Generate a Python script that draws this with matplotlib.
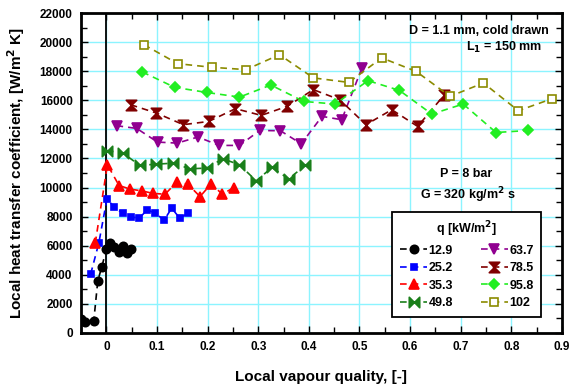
import numpy as np
import matplotlib
matplotlib.use('Agg')
import matplotlib.pyplot as plt
from matplotlib.path import Path

plt.rcParams['font.family'] = ['Liberation Sans', 'DejaVu Sans']
plt.rcParams['font.weight'] = 'bold'

# Mesures : titre de vapeur local x et coefficient d'échange h [W/m2 K]
x_129 = [-0.05, -0.043, -0.025, -0.017, -0.009, 0.0, 0.008, 0.015, 0.024, 0.032, 0.040, 0.049]
h_129 = [950, 750, 800, 3570, 4550, 5750, 6170, 5890, 5550, 6000, 5480, 5750]

x_252 = [-0.031, -0.015, 0.001, 0.016, 0.032, 0.048, 0.065, 0.081, 0.097, 0.114, 0.129, 0.145, 0.161]
h_252 = [4050, 6170, 9200, 8650, 8230, 7960, 7910, 8460, 8230, 7750, 8580, 7890, 8230]

x_353 = [-0.022, 0.002, 0.025, 0.047, 0.070, 0.093, 0.116, 0.139, 0.161, 0.185, 0.207, 0.229, 0.252]
h_353 = [6170, 11570, 10140, 9890, 9770, 9590, 9545, 10370, 10230, 9380, 10250, 9545, 10000]

x_498 = [0.001, 0.033, 0.066, 0.099, 0.132, 0.165, 0.198, 0.230, 0.263, 0.296, 0.327, 0.360, 0.393]
h_498 = [12550, 12370, 11520, 11610, 11680, 11290, 11340, 11980, 11570, 10460, 11380, 10600, 11520]

x_637 = [0.020, 0.060, 0.101, 0.140, 0.181, 0.223, 0.263, 0.303, 0.344, 0.385, 0.426, 0.465, 0.505]
h_637 = [14260, 14070, 13130, 13060, 13480, 12900, 12900, 13930, 13910, 13010, 14900, 14670, 18240]

x_785 = [0.048, 0.099, 0.152, 0.202, 0.255, 0.306, 0.357, 0.409, 0.461, 0.513, 0.564, 0.615, 0.667]
h_785 = [15700, 15130, 14330, 14550, 15430, 14970, 15590, 16740, 16050, 14330, 15360, 14210, 16350]

x_958 = [0.071, 0.135, 0.198, 0.263, 0.325, 0.390, 0.452, 0.517, 0.579, 0.643, 0.705, 0.770, 0.834]
h_958 = [17960, 16900, 16550, 16230, 17060, 15930, 15750, 17360, 16690, 15060, 15750, 13790, 13930]

x_102 = [0.074, 0.141, 0.209, 0.276, 0.342, 0.409, 0.479, 0.544, 0.612, 0.679, 0.745, 0.814, 0.881]
h_102 = [19840, 18530, 18280, 18120, 19150, 17550, 17240, 18930, 18000, 16280, 17200, 15290, 16120]

# marqueurs "noeud papillon" (horizontal et vertical)
bowtie = Path([(-1, -1), (-1, 1), (0, 0), (1, 1), (1, -1), (0, 0), (-1, -1)],
              [Path.MOVETO] + [Path.LINETO] * 5 + [Path.CLOSEPOLY])
hourglass = Path([(-1, -1), (1, -1), (0, 0), (1, 1), (-1, 1), (0, 0), (-1, -1)],
                 [Path.MOVETO] + [Path.LINETO] * 5 + [Path.CLOSEPOLY])

series = [
    (x_129, h_129, '12.9', 'black', 'o', 'black', 6),
    (x_252, h_252, '25.2', '#0000ff', 's', '#0000ff', 5),
    (x_353, h_353, '35.3', '#ff0000', '^', '#ff0000', 7),
    (x_498, h_498, '49.8', '#1a7f1a', bowtie, '#1a7f1a', 7.5),
    (x_637, h_637, '63.7', '#900090', 'v', '#900090', 6.5),
    (x_785, h_785, '78.5', '#800000', hourglass, '#800000', 7.5),
    (x_958, h_958, '95.8', '#22ee22', 'D', '#22ee22', 5),
    (x_102, h_102, '102', '#8b8b00', 's', 'white', 5.5),
]

fig = plt.figure(figsize=(5.71, 3.91), dpi=100)
ax = fig.add_axes([0.142, 0.149, 0.842, 0.817])

handles = []
for x, h, lab, col, mk, fc, ms in series:
    ln, = ax.plot(x, h, linestyle='--', color=col, linewidth=1.2, marker=mk,
                  markersize=ms, markerfacecolor=fc, markeredgecolor=col,
                  markeredgewidth=1.2, label=lab, dashes=(4, 3))
    handles.append(ln)

ax.axvline(0, color='black', linewidth=1.3, zorder=1)

ax.set_xlim(-0.05, 0.9)
ax.set_ylim(0, 22000)
ax.set_xticks(np.arange(0, 0.91, 0.1))
ax.set_xticklabels(['0', '0.1', '0.2', '0.3', '0.4', '0.5', '0.6', '0.7', '0.8', '0.9'])
ax.set_xticks(np.arange(-0.05, 0.9, 0.05), minor=True)
ax.set_yticks(np.arange(0, 22001, 2000))
ax.set_yticks(np.arange(0, 22001, 1000), minor=True)
ax.grid(True, which='major', color='#8cf4ff', linewidth=1.0, zorder=0)
ax.set_axisbelow(True)
ax.tick_params(which='both', direction='in', top=True, right=True, labelsize=8.5)
ax.tick_params(which='major', length=5, width=1, pad=6)
ax.tick_params(which='minor', length=4, width=1)
for lbl in ax.get_xticklabels() + ax.get_yticklabels():
    lbl.set_fontweight('bold')
for sp in ax.spines.values():
    sp.set_linewidth(2)

ax.set_xlabel('Local vapour quality, [-]', fontsize=11, fontweight='bold', labelpad=12)
ax.set_ylabel('Local heat transfer coefficient, [W/m$^{\\mathbf{2}}$ K]', fontsize=11,
              fontweight='bold', labelpad=9)

ax.text(0.875, 20800, 'D = 1.1 mm, cold drawn', ha='right', va='center', fontsize=9, fontweight='bold')
ax.text(0.785, 19650, 'L$_{\\mathbf{1}}$ = 150 mm', ha='center', va='center', fontsize=9, fontweight='bold')
ax.text(0.71, 10950, 'P = 8 bar', ha='center', va='center', fontsize=9, fontweight='bold')
ax.text(0.715, 9470, 'G = 320 kg/m$^{\\mathbf{2}}$ s', ha='center', va='center', fontsize=9, fontweight='bold')

leg = ax.legend(handles=handles, ncol=2, loc='lower right', bbox_to_anchor=(0.970, 0.030),
                title='q [kW/m$^{\\mathbf{2}}$]', fontsize=9, title_fontsize=9,
                handlelength=2.2, handletextpad=0.1, columnspacing=2.2, labelspacing=0.45,
                framealpha=1, edgecolor='black', fancybox=False, borderpad=0.6)
leg.get_frame().set_linewidth(1.3)
leg.get_title().set_fontweight('bold')
for t in leg.get_texts():
    t.set_fontweight('bold')

fig.savefig('out.png', dpi=100)
